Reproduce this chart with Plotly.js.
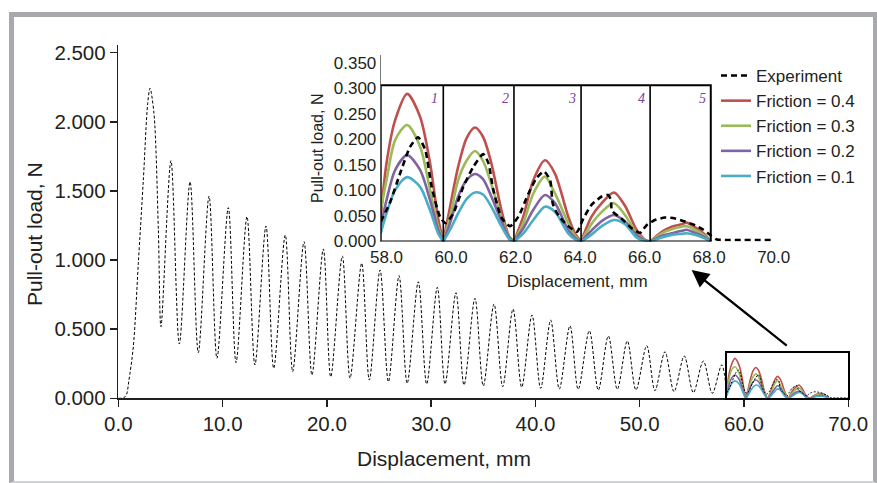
<!DOCTYPE html>
<html>
<head>
<meta charset="utf-8">
<script src="https://cdn.plot.ly/plotly-3.0.1.min.js"></script>
<style>
  html, body { margin: 0; padding: 0; background: #ffffff; }
  #wrap { position: relative; width: 877px; height: 483px; }
  #chart { position: absolute; left: 0; top: 0; width: 877px; height: 483px; }
  #frame { position: absolute; left: 9px; top: 12px; width: 868px; height: 471px; box-sizing: border-box;
           border-left: 5px solid #a7a9ac; border-top: 5px solid #a7a9ac; border-right: 4px solid #a7a9ac;
           border-bottom: 2px solid #d2d3d5; pointer-events: none; }
</style>
</head>
<body>
<div id="wrap"><div id="chart"></div><div id="frame"></div></div>
<script>
// ---------- Main chart: experimental pull-out curve (0-58 mm) ----------
const mainDisp = [0, 0.55, 0.8, 1.0, 1.44, 1.92, 2.4, 2.82, 3.04, 3.42, 3.84, 4.09,
  5.05, 5.85, 6.88, 7.67, 8.70, 9.46, 10.55, 11.29, 12.34, 13.1, 14.16, 14.9, 16.01, 16.72,
  17.81, 18.57, 19.66, 20.37, 21.48, 22.22, 23.34, 24.07, 25.1, 25.9, 26.92, 27.7, 28.77, 29.57,
  30.59, 31.33, 32.38, 33.15, 34.2, 35.0, 36.03, 36.86, 37.85, 38.68, 39.67, 40.5, 41.46, 42.29,
  43.31, 44.1, 45.17, 46.03, 46.99, 47.85, 48.81, 49.64, 50.67, 51.46, 52.42, 53.29, 54.27, 55.14,
  56.1, 56.96, 57.86, 58.35];
const mainLoad = [0, 0.005, 0.03, 0.12, 0.373, 0.977, 1.579, 2.134, 2.243, 2.06, 1.217, 0.518,
  1.719, 0.393, 1.567, 0.33, 1.463, 0.289, 1.379, 0.258, 1.314, 0.241, 1.246, 0.217, 1.181, 0.193,
  1.133, 0.169, 1.08, 0.156, 1.029, 0.145, 0.977, 0.132, 0.928, 0.12, 0.887, 0.108, 0.843, 0.103,
  0.803, 0.103, 0.764, 0.096, 0.723, 0.089, 0.682, 0.084, 0.646, 0.08, 0.603, 0.072, 0.566, 0.067,
  0.525, 0.065, 0.489, 0.06, 0.451, 0.065, 0.415, 0.06, 0.381, 0.055, 0.337, 0.048, 0.306, 0.041,
  0.27, 0.036, 0.241, 0.039];

// ---------- Inset: experiment (58-70 mm) ----------
const expDisp = [57.82, 58.1, 58.42, 58.73, 58.98, 59.2, 59.4, 59.66, 59.83, 60.07, 60.38, 60.69, 61.0,
  61.16, 61.31, 61.57, 61.83, 62.09, 62.4, 62.65, 62.88, 63.07, 63.15, 63.27, 63.53, 63.9, 64.1,
  64.36, 64.67, 64.87, 64.95, 64.99, 65.28, 65.6, 65.86, 66.06, 66.32, 66.63, 66.94, 67.25, 67.56,
  67.82, 68.03, 68.23, 68.5, 70.0];
const expLoad = [0.039, 0.075, 0.133, 0.185, 0.204, 0.179, 0.107, 0.048, 0.036, 0.055, 0.107, 0.146, 0.171,
  0.153, 0.101, 0.046, 0.03, 0.049, 0.094, 0.124, 0.137, 0.12, 0.075, 0.057, 0.036, 0.019, 0.045,
  0.072, 0.088, 0.091, 0.082, 0.06, 0.045, 0.026, 0.017, 0.032, 0.042, 0.047, 0.045, 0.039, 0.032,
  0.023, 0.013, 0.004, 0.003, 0.003];

// ---------- Inset: simulations, one sub-array per pull-out section ----------
const sectionDisp = [
  [57.82, 58.0, 58.27, 58.64, 59.04, 59.35, 59.6, 59.76],
  [59.76, 59.97, 60.22, 60.48, 60.74, 60.99, 61.25, 61.56, 61.8, 61.95],
  [61.95, 62.24, 62.55, 62.91, 63.22, 63.63, 63.85, 64.03],
  [64.03, 64.36, 64.67, 65.05, 65.39, 65.75, 66.0, 66.17],
  [66.17, 66.53, 66.84, 67.15, 67.3, 67.56, 67.82, 68.05]
];
const friction04 = [
  [0.045, 0.153, 0.238, 0.289, 0.244, 0.153, 0.045, 0],
  [0, 0.068, 0.146, 0.202, 0.223, 0.205, 0.153, 0.062, 0.01, 0],
  [0, 0.049, 0.12, 0.159, 0.133, 0.049, 0.015, 0],
  [0, 0.049, 0.075, 0.096, 0.07, 0.023, 0.004, 0],
  [0, 0.019, 0.029, 0.034, 0.037, 0.028, 0.016, 0]
];
const friction03 = [
  [0.061, 0.12, 0.199, 0.228, 0.186, 0.101, 0.029, 0],
  [0, 0.049, 0.12, 0.158, 0.177, 0.158, 0.112, 0.047, 0.01, 0],
  [0, 0.036, 0.094, 0.127, 0.094, 0.036, 0.01, 0],
  [0, 0.035, 0.058, 0.075, 0.052, 0.016, 0.003, 0],
  [0, 0.016, 0.024, 0.029, 0.03, 0.023, 0.013, 0]
];
const friction02 = [
  [0.029, 0.081, 0.14, 0.169, 0.14, 0.081, 0.023, 0],
  [0, 0.036, 0.088, 0.12, 0.132, 0.122, 0.088, 0.04, 0.008, 0],
  [0, 0.026, 0.062, 0.091, 0.075, 0.023, 0.007, 0],
  [0, 0.022, 0.04, 0.052, 0.039, 0.013, 0.002, 0],
  [0, 0.011, 0.016, 0.021, 0.023, 0.017, 0.01, 0]
];
const friction01 = [
  [0.016, 0.055, 0.101, 0.126, 0.107, 0.061, 0.016, 0],
  [0, 0.023, 0.055, 0.083, 0.096, 0.092, 0.068, 0.03, 0.005, 0],
  [0, 0.016, 0.042, 0.068, 0.058, 0.016, 0.004, 0],
  [0, 0.014, 0.03, 0.042, 0.034, 0.008, 0.001, 0],
  [0, 0.008, 0.013, 0.015, 0.016, 0.013, 0.007, 0]
];
const frictionNames = ['Friction = 0.4', 'Friction = 0.3', 'Friction = 0.2', 'Friction = 0.1'];
const sectionLabels = ['1', '2', '3', '4', '5'];
const mainTicks = [0, 10, 20, 30, 40, 50, 60, 70];
const insetTicks = [58, 60, 62, 64, 66, 68, 70];

// ---------- styles ----------
const colors = ['#c0504d', '#9bbb59', '#8064a2', '#4bacc6'];
const FONT = 'Liberation Sans, Arial, sans-serif';
const INK = '#231f20';
const W = 877, H = 483;
const fx = px => px / W;
const fy = py => 1 - py / H;

function joinSections(xs, ys) {
  const X = [], Y = [];
  xs.forEach((sx, i) => {
    if (i > 0) { X.push(null); Y.push(null); }
    sx.forEach((v, j) => { X.push(v); Y.push(ys[i][j]); });
  });
  return {x: X, y: Y};
}

const frictionSets = [friction04, friction03, friction02, friction01];
const traces = [];

// main experimental curve
traces.push({x: mainDisp, y: mainLoad, xaxis: 'x', yaxis: 'y', mode: 'lines', showlegend: false,
  line: {color: '#000', width: 1, dash: '3px,2px', shape: 'spline', smoothing: 0.9}, hoverinfo: 'skip'});

// small boxed copy inside the main chart
frictionSets.forEach((set, i) => {
  const d = joinSections(sectionDisp, set);
  traces.push({x: d.x, y: d.y, xaxis: 'x3', yaxis: 'y3', mode: 'lines', showlegend: false,
    line: {color: colors[i], width: 1.6, shape: 'spline', smoothing: 0.8}, hoverinfo: 'skip'});
});
traces.push({x: expDisp, y: expLoad, xaxis: 'x3', yaxis: 'y3', mode: 'lines', showlegend: false,
  line: {color: '#000', width: 1, dash: '2px,1.5px', shape: 'spline', smoothing: 0.6}, hoverinfo: 'skip'});

// inset traces
frictionSets.forEach((set, i) => {
  const d = joinSections(sectionDisp, set);
  traces.push({x: d.x, y: d.y, xaxis: 'x2', yaxis: 'y2', mode: 'lines', name: frictionNames[i],
    legendrank: i + 2, line: {color: colors[i], width: 2.6, shape: 'spline', smoothing: 0.8}});
});
traces.push({x: expDisp, y: expLoad, xaxis: 'x2', yaxis: 'y2', mode: 'lines', name: 'Experiment',
  legendrank: 1, line: {color: '#000', width: 2.6, dash: '6px,4px', shape: 'spline', smoothing: 0.6}});

// inset box and separators
const sepBounds = sectionDisp.map(s => s[s.length - 1]);
const boxTop = 0.306;
const shapes = [{type: 'rect', xref: 'x2', yref: 'y2', x0: sectionDisp[0][0], x1: sepBounds[4], y0: 0, y1: boxTop,
  line: {color: '#000', width: 2}}];
sepBounds.slice(0, 4).forEach(b => shapes.push({type: 'line', xref: 'x2', yref: 'y2', x0: b, x1: b, y0: 0, y1: boxTop,
  line: {color: '#000', width: 1.6}}));

const annotations = [];
sepBounds.forEach((b, i) => annotations.push({xref: 'x2', yref: 'y2', x: b - 0.27, y: 0.28, text: sectionLabels[i],
  showarrow: false, font: {family: 'Liberation Serif, serif', size: 14, color: '#7a3fa0', style: 'italic'}}));
annotations.push({xref: 'paper', yref: 'paper', x: fx(444), y: fy(458), xanchor: 'center', yanchor: 'middle',
  text: 'Displacement, mm', showarrow: false, font: {family: FONT, size: 21, color: INK}});
annotations.push({xref: 'paper', yref: 'paper', x: fx(34), y: fy(234), xanchor: 'center', yanchor: 'middle',
  text: 'Pull-out load, N', textangle: -90, showarrow: false, font: {family: FONT, size: 21, color: INK}});
annotations.push({xref: 'x', yref: 'y', x: 54.98, y: 0.928, ax: 96.6, ay: 76.7, text: '', showarrow: true,
  arrowhead: 2, arrowsize: 1.5, arrowwidth: 2.3, arrowcolor: '#000', standoff: 0});

const layout = {
  width: W, height: H,
  margin: {l: 0, r: 0, t: 0, b: 0},
  paper_bgcolor: '#ffffff', plot_bgcolor: 'rgba(0,0,0,0)',
  font: {family: FONT, color: INK},
  showlegend: true,
  legend: {x: fx(716), y: fy(58), xanchor: 'left', yanchor: 'top', bgcolor: 'rgba(0,0,0,0)',
    font: {family: FONT, size: 17, color: INK}, traceorder: 'normal'},
  xaxis: {domain: [fx(118.3), fx(848.3)], range: [0, 70], anchor: 'y', tickvals: mainTicks,
    ticktext: mainTicks.map(v => v.toFixed(1)), ticks: 'outside', ticklen: 7, tickwidth: 1.5, tickcolor: INK,
    showline: true, linecolor: INK, linewidth: 1.5, showgrid: false, zeroline: false,
    tickfont: {family: FONT, size: 20.5, color: INK}},
  yaxis: {domain: [fy(398.3), fy(45)], range: [0, 2.556], anchor: 'x', dtick: 0.5, tick0: 0, tickformat: '.3f',
    ticks: 'outside', ticklen: 7, tickwidth: 1.5, tickcolor: INK, showline: true, linecolor: INK, linewidth: 1.5,
    showgrid: false, zeroline: false, tickfont: {family: FONT, size: 20.5, color: INK}},
  xaxis2: {domain: [fx(380.7), fx(773.7)], range: [57.82, 70], anchor: 'y2', tickvals: insetTicks,
    ticktext: insetTicks.map(v => v.toFixed(1)), ticks: '', showline: false, showgrid: false, zeroline: false,
    ticklabelstandoff: 3, tickfont: {family: FONT, size: 17, color: INK},
    title: {text: 'Displacement, mm', font: {family: FONT, size: 17, color: INK}, standoff: 9}},
  yaxis2: {domain: [fy(241.5), fy(55)], range: [0, 0.365], anchor: 'x2', dtick: 0.05, tick0: 0, tickformat: '.3f',
    ticks: '', showline: true, linecolor: '#7a7a7a', linewidth: 1, showgrid: false, zeroline: false,
    tickfont: {family: FONT, size: 17, color: INK},
    title: {text: 'Pull-out load, N', font: {family: FONT, size: 16, color: INK}, standoff: 6}},
  xaxis3: {domain: [fx(726.7), fx(848.3)], range: [57.82, 70], anchor: 'y3', showticklabels: false, ticks: '',
    showline: true, mirror: true, linecolor: '#000', linewidth: 2, showgrid: false, zeroline: false},
  yaxis3: {domain: [fy(398.3), fy(353)], range: [0, 0.328], anchor: 'x3', showticklabels: false, ticks: '',
    showline: true, mirror: true, linecolor: '#000', linewidth: 2, showgrid: false, zeroline: false},
  shapes: shapes,
  annotations: annotations
};

Plotly.newPlot('chart', traces, layout, {staticPlot: true, displayModeBar: false});
</script>
</body>
</html>
